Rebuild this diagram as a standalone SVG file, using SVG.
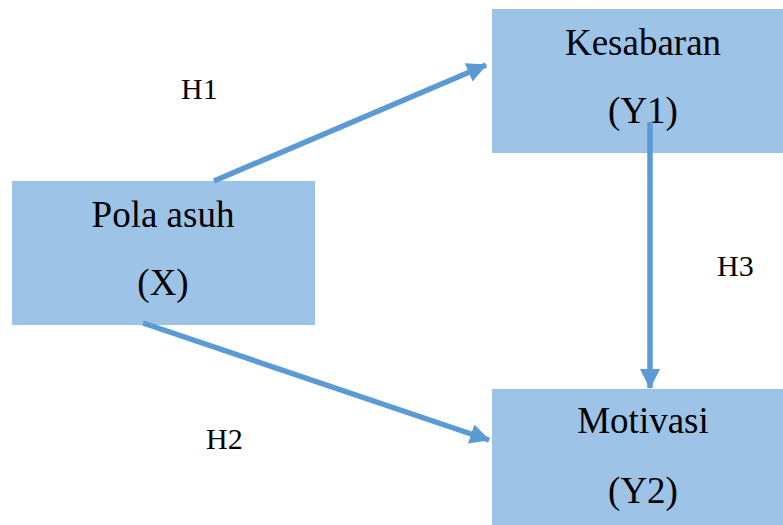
<svg xmlns="http://www.w3.org/2000/svg" width="783" height="525" viewBox="0 0 783 525">
<style>
.box{fill:#9DC3E6;}
text{font-family:'Liberation Serif','Times New Roman','DejaVu Serif',serif;fill:#000;}
.t{font-size:37px;text-anchor:middle;}
.lbl{font-size:30px;}
.c{stroke:#5B9BD5;stroke-width:5.5;fill:none;}
</style>
<defs>
<marker id="ah" markerUnits="userSpaceOnUse" markerWidth="20" markerHeight="20" viewBox="0 0 18 18" refX="17" refY="9" orient="auto">
<path d="M0,0 L18,9 L0,18 z" fill="#5B9BD5"/>
</marker>
</defs>
<rect width="783" height="525" fill="#fff"/>
<g id="node-x"><rect class="box" x="12" y="181" width="303" height="144"/><text class="t" x="163" y="227" font-family="Liberation Serif, serif">Pola asuh</text><text class="t" x="163" y="295" font-family="Liberation Serif, serif">(X)</text></g>
<g id="node-y1"><rect class="box" x="492" y="9" width="291" height="144"/><text class="t" x="643" y="55" font-family="Liberation Serif, serif">Kesabaran</text><text class="t" x="643" y="123" font-family="Liberation Serif, serif">(Y1)</text></g>
<g id="node-y2"><rect class="box" x="492" y="389" width="291" height="136"/><text class="t" x="643" y="433" font-family="Liberation Serif, serif">Motivasi</text><text class="t" x="643" y="503" font-family="Liberation Serif, serif">(Y2)</text></g>
<g id="connectors">
<line class="c" x1="214" y1="181" x2="486" y2="65" marker-end="url(#ah)"/>
<line class="c" x1="143" y1="323" x2="489" y2="440" marker-end="url(#ah)"/>
<line class="c" x1="650" y1="122" x2="650" y2="388" marker-end="url(#ah)"/>
</g>
<text class="lbl" x="181" y="99" font-family="Liberation Serif, serif">H1</text>
<text class="lbl" x="206" y="449" font-family="Liberation Serif, serif">H2</text>
<text class="lbl" x="717" y="276" font-family="Liberation Serif, serif">H3</text>
</svg>
